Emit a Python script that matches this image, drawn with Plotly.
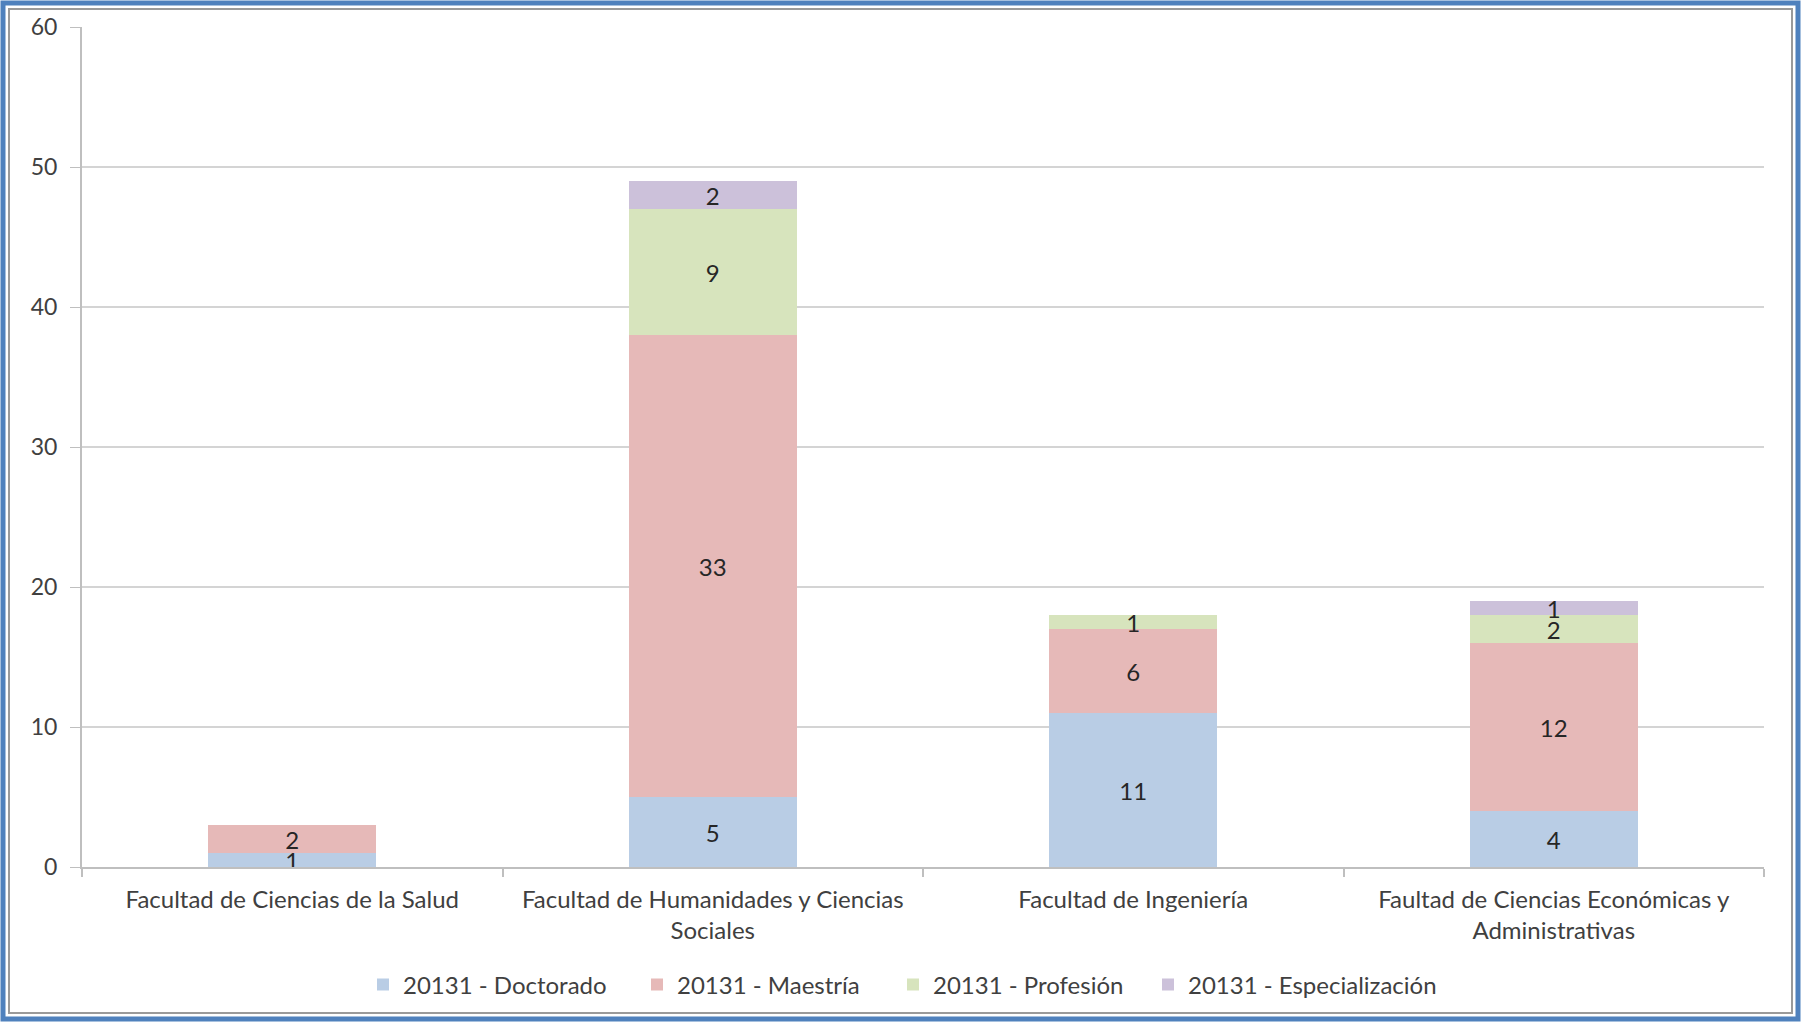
import plotly.graph_objects as go

categories = [
    "Facultad de Ciencias de la Salud",
    "Facultad de Humanidades y Ciencias<br>Sociales",
    "Facultad de Ingeniería",
    "Faultad de Ciencias Económicas y<br>Administrativas",
]
series_names = ["20131 - Doctorado", "20131 - Maestría", "20131 - Profesión", "20131 - Especialización"]
doctorado = [1, 5, 11, 4]
maestria = [2, 33, 6, 12]
profesion = [None, 9, 1, 2]
especializacion = [None, 2, None, 1]
y_ticks = [0, 10, 20, 30, 40, 50, 60]

colors = ["#B9CDE5", "#E6B9B8", "#D7E4BD", "#CCC1DA"]
legend_px = [363, 637, 893, 1148]   # left edge of each legend entry (pixels)
FONT = "Lato"

W, H = 1802, 1022
L, R, T, B = 82, 38, 27, 155
pw, ph = W - L - R, H - T - B

def px_x(px):
    return (px - L) / pw

def px_y(py):
    return (H - B - py) / ph

fig = go.Figure()
legend_ids = ["legend", "legend2", "legend3", "legend4"]
for name, vals, col, lid in zip(series_names, [doctorado, maestria, profesion, especializacion], colors, legend_ids):
    fig.add_trace(go.Bar(
        name=name, x=categories, y=vals,
        marker=dict(color=col, line=dict(width=0)),
        text=[str(v) if v is not None else "" for v in vals],
        textposition="inside", insidetextanchor="middle", textangle=0,
        textfont=dict(family=FONT, size=24, color="#262626"),
        hoverinfo="skip", legend=lid,
    ))

legend_layout = {}
for lid, lx in zip(legend_ids, legend_px):
    legend_layout[lid] = dict(orientation="h", x=px_x(lx), xanchor="left", y=px_y(985), yanchor="middle",
                              font=dict(family=FONT, size=24, color="#404040"), itemwidth=30,
                              bgcolor="rgba(0,0,0,0)")

fig.update_layout(
    barmode="stack", bargap=0.6,
    width=W, height=H,
    margin=dict(l=L, r=R, t=T, b=B),
    plot_bgcolor="white", paper_bgcolor="white",
    uniformtext=dict(minsize=24, mode="show"),
    font=dict(family=FONT, size=24, color="#404040"),
    showlegend=True,
    **legend_layout,
    xaxis=dict(showline=True, linecolor="#BFBFBF", linewidth=2, ticks="outside", ticklen=8,
               tickcolor="#BFBFBF", tickson="boundaries", tickwidth=1.5, ticklabelstandoff=10,
               tickfont=dict(family=FONT, size=24, color="#404040"), fixedrange=True),
    yaxis=dict(range=[0, 60], tickvals=y_ticks, showgrid=True, gridcolor="#D4D4D4", gridwidth=2,
               showline=True, linecolor="#BFBFBF", linewidth=2, ticks="outside", ticklen=10,
               tickcolor="#BFBFBF", ticklabelstandoff=8,
               tickfont=dict(family=FONT, size=23, color="#404040"),
               zeroline=False, fixedrange=True),
)

# outer frame (blue) and inner gray line
fig.add_shape(type="rect", xref="paper", yref="paper",
              x0=px_x(3), x1=px_x(1798), y0=px_y(1019), y1=px_y(3),
              line=dict(color="#4F81BD", width=5), fillcolor="rgba(0,0,0,0)", layer="above")
fig.add_shape(type="rect", xref="paper", yref="paper",
              x0=px_x(9), x1=px_x(1792), y0=px_y(1013), y1=px_y(9),
              line=dict(color="#9A9A9A", width=2), fillcolor="rgba(0,0,0,0)", layer="above")

fig.write_html("out.html", config={"displayModeBar": False},
               post_script="document.body.style.margin='0';document.body.style.overflow='hidden';")
